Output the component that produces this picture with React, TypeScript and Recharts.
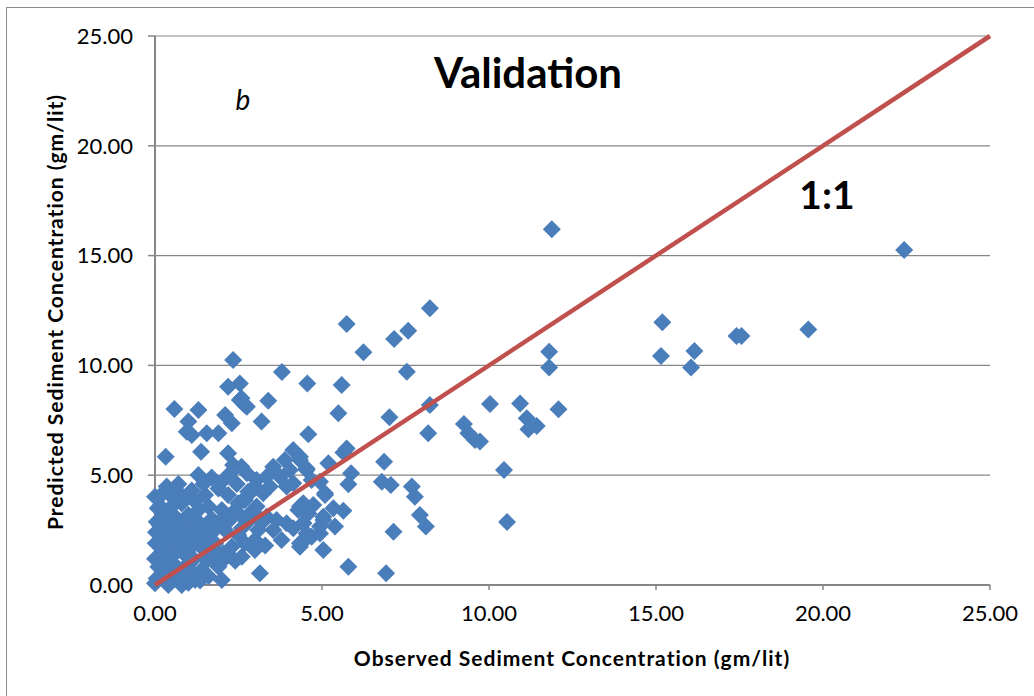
import React from "react";
import { ScatterChart, Scatter, XAxis, YAxis, CartesianGrid } from "recharts";

const axisTicks = [0, 5, 10, 15, 20, 25];

const observed = [
  11.88, 22.43, 15.19, 19.56, 17.41, 17.56, 15.15, 16.15, 16.05, 11.8, 11.8, 10.03, 10.93, 12.08, 11.13, 11.43, 11.18, 9.73, 10.45, 10.54, 9.25, 9.38, 9.58,
  8.23, 5.74, 6.24, 7.16, 7.58, 7.54, 4.56, 5.59, 5.49, 7.02, 8.18, 8.23, 4.59, 5.74, 5.64, 4.34, 4.54, 5.19, 6.86, 5.87, 5.79, 6.79, 7.06, 7.69, 7.78, 4.94, 5.09, 7.93, 8.11, 7.14, 4.34, 4.74, 5.34, 5.64, 5.04, 5.39, 4.49, 4.94, 4.69, 5.04, 5.79, 6.92, 4.44, 4.34,
  3.39, 2.69, 3.19, 4.14, 4.34, 3.54, 3.34, 3.74, 3.04, 2.75, 3.89, 4.04, 4.54, 4.69, 4.14, 3.94, 5.09, 2.99, 3.24, 2.84, 2.64, 3.44, 3.04, 2.84, 3.34, 4.44, 4.29, 4.59, 5.04, 4.94, 3.64, 3.94, 3.54, 4.14, 4.44, 4.54, 3.79, 4.34, 3.14, 2.54, 2.75, 3.8, 2.34, 2.19, 2.54,
  0.58, 1.3, 1.0, 2.1, 2.3, 0.95, 1.1, 1.55, 1.9, 1.38, 0.32, 2.19, 2.34, 1.3, 2.59,
  0.35, 0.0, 0.55, 0.8, 1.9, 2.19, 2.49, 2.69, 2.79, 2.25, 2.59, 0.05, 0.3, 0.6, 1.0, 1.3, 1.6, 2.0, 2.3, 2.6, 2.99, 0.3, 0.7, 1.1, 1.5, 2.1, 2.49, 2.99, 0.2, 0.6, 1.0, 1.4, 1.8, 2.3, 0.1, 0.5, 0.9, 1.4, 1.9, 2.6, 2.99, 0.0, 0.4, 0.8, 1.2, 2.0, 2.69, 3.09, 2.19, 1.95,
  0.15, 0.45, 0.9, 1.2, 1.5, 1.1, 0.7, 1.45, 0.2, 0.5, 0.85, 1.25, 1.7, 1.95, 2.2, 0.1, 0.35, 0.75, 1.2, 1.6, 1.75, 0.25, 0.65, 1.05, 1.6, 0.05, 1.15, 0.45, 0.9, 2.6, 2.8, 3.2, 3.3, 2.45, 1.7, 2.0, 0.02, 0.03, 0.0, 0.08, 0.6, 1.35, 1.85, 0.4, 1.05,
  0.25, 0.65, 1.3, 0.4, 0.95, 1.55, 0.15, 0.55, 1.35, 1.75, 0.2, 0.7, 1.1, 2.05, 2.4, 0.5, 1.0, 1.5,
];

const predicted = [
  16.2, 15.26, 11.96, 11.64, 11.34, 11.34, 10.43, 10.66, 9.9, 10.62, 9.9, 8.24, 8.27, 8.0, 7.59, 7.24, 7.09, 6.53, 5.24, 2.87, 7.33, 6.91, 6.6,
  12.6, 11.89, 10.6, 11.2, 11.58, 9.71, 9.18, 9.11, 7.82, 7.64, 6.91, 8.2, 6.86, 6.22, 6.03, 5.84, 5.31, 5.54, 5.61, 5.09, 4.59, 4.7, 4.55, 4.48, 4.02, 4.7, 4.18, 3.19, 2.66, 2.43, 3.57, 3.64, 3.49, 3.38, 2.96, 2.66, 2.05, 2.35, 2.2, 1.59, 0.83, 0.53, 2.81, 1.74,
  8.39, 8.2, 7.44, 6.15, 5.69, 5.39, 4.93, 4.93, 4.78, 5.09, 5.69, 5.24, 5.24, 4.78, 4.63, 4.48, 4.1, 4.48, 4.18, 4.18, 3.87, 4.48, 3.57, 3.26, 3.11, 3.72, 3.42, 3.26, 3.11, 2.66, 2.96, 2.81, 2.5, 2.58, 2.81, 2.35, 2.05, 1.9, 0.53, 8.42, 8.12, 9.7, 10.25, 9.03, 9.18,
  8.01, 7.97, 7.44, 7.74, 7.36, 6.98, 6.83, 6.91, 6.91, 6.07, 5.84, 6.0, 5.46, 5.01, 8.5,
  4.48, 4.02, 3.95, 3.72, 4.4, 4.1, 3.72, 3.87, 4.25, 5.09, 5.39, 2.88, 3.26, 3.11, 3.19, 3.42, 3.57, 3.42, 3.26, 3.11, 3.26, 2.5, 2.35, 2.35, 2.65, 2.5, 2.28, 2.05, 1.74, 1.44, 1.59, 1.74, 1.9, 1.74, 0.83, 0.99, 0.83, 0.68, 0.83, 1.29, 1.59, 0.08, 0.0, 0.0, 0.23, 0.23, 1.9, 2.5, 1.37, 0.99,
  3.6, 3.5, 3.9, 3.8, 4.1, 4.3, 4.6, 4.6, 2.2, 2.7, 2.75, 2.95, 3.0, 2.9, 2.9, 1.3, 1.1, 1.9, 2.0, 2.2, 1.4, 0.5, 0.45, 0.35, 0.4, 0.3, 1.2, 2.05, 2.1, 2.6, 2.9, 2.85, 1.8, 4.6, 4.9, 4.7, 1.9, 2.4, 1.2, 3.5, 0.6, 0.2, 1.5, 0.75, 1.0,
  4.2, 4.3, 2.6, 1.6, 1.3, 1.1, 2.7, 2.9, 2.2, 2.45, 0.95, 0.75, 0.6, 1.45, 1.1, 0.2, 0.1, 1.55,
];

const oneToOne = [0, 25];

const points = observed.map((x, i) => ({ x, y: predicted[i] }));
const lineData = oneToOne.map((v) => ({ x: v, y: v }));

const FONT = "Lato, 'Open Sans', sans-serif";
const GREY = "#868686";

const Diamond = (props: any) => {
  const { cx, cy } = props;
  const r = 9;
  return (
    <polygon
      points={`${cx},${cy - r} ${cx + r},${cy} ${cx},${cy + r} ${cx - r},${cy}`}
      fill="#4A7EBB"
    />
  );
};

const NoShape = () => <g />;

export default function App() {
  return (
    <div
      style={{
        position: "absolute",
        left: 0,
        top: 0,
        width: 1034,
        height: 696,
        background: "#fff",
        overflow: "hidden",
        fontFamily: FONT,
      }}
    >
      <div
        style={{
          position: "absolute",
          left: 6,
          top: 7,
          width: 1100,
          height: 800,
          borderLeft: "1px solid #8c8c8c",
          borderTop: "1px solid #8c8c8c",
        }}
      />
      <ScatterChart
        width={1034}
        height={696}
        margin={{ top: 36, right: 44, bottom: 71, left: 65 }}
        style={{ position: "absolute", left: 0, top: 0 }}
      >
        <CartesianGrid vertical={false} stroke={GREY} strokeWidth={1.2} />
        <XAxis
          type="number"
          dataKey="x"
          domain={[0, 25]}
          ticks={axisTicks}
          tickFormatter={(v: number) => v.toFixed(2)}
          height={40}
          tickSize={5}
          tickMargin={15}
          stroke={GREY}
          axisLine={{ stroke: GREY, strokeWidth: 2 }}
          tickLine={{ stroke: GREY, strokeWidth: 1.5 }}
          tick={{ fill: "#000", fontSize: 22, fontFamily: FONT }}
          interval={0}
        />
        <YAxis
          type="number"
          dataKey="y"
          domain={[0, 25]}
          ticks={axisTicks}
          tickFormatter={(v: number) => v.toFixed(2)}
          width={90}
          tickSize={7}
          tickMargin={15}
          stroke={GREY}
          axisLine={{ stroke: GREY, strokeWidth: 2 }}
          tickLine={{ stroke: GREY, strokeWidth: 1.5 }}
          tick={{ fill: "#000", fontSize: 22, fontFamily: FONT }}
          interval={0}
        />
        <Scatter data={points} shape={Diamond} isAnimationActive={false} />
        <Scatter
          data={lineData}
          shape={NoShape}
          line={{ stroke: "#C0504D", strokeWidth: 4.5 }}
          lineType="joint"
          isAnimationActive={false}
        />
      </ScatterChart>
      <div
        style={{
          position: "absolute",
          left: 528,
          top: 72,
          transform: "translate(-50%, -50%)",
          fontSize: 42,
          fontWeight: 700,
          whiteSpace: "nowrap",
        }}
      >
        Validation
      </div>
      <div
        style={{
          position: "absolute",
          left: 243,
          top: 99,
          transform: "translate(-50%, -50%)",
          fontSize: 28,
          fontStyle: "italic",
        }}
      >
        b
      </div>
      <div
        style={{
          position: "absolute",
          left: 827,
          top: 194,
          transform: "translate(-50%, -50%)",
          fontSize: 39,
          fontWeight: 700,
          whiteSpace: "nowrap",
        }}
      >
        1:1
      </div>
      <div
        style={{
          position: "absolute",
          left: 572,
          top: 657,
          transform: "translate(-50%, -50%)",
          fontSize: 21,
          letterSpacing: 1,
          fontWeight: 700,
          whiteSpace: "nowrap",
        }}
      >
        Observed Sediment Concentration (gm/lit)
      </div>
      <div
        style={{
          position: "absolute",
          left: 54,
          top: 312,
          transform: "translate(-50%, -50%) rotate(-90deg)",
          fontSize: 21,
          letterSpacing: 1,
          fontWeight: 700,
          whiteSpace: "nowrap",
        }}
      >
        Predicted Sediment Concentration (gm/lit)
      </div>
    </div>
  );
}
